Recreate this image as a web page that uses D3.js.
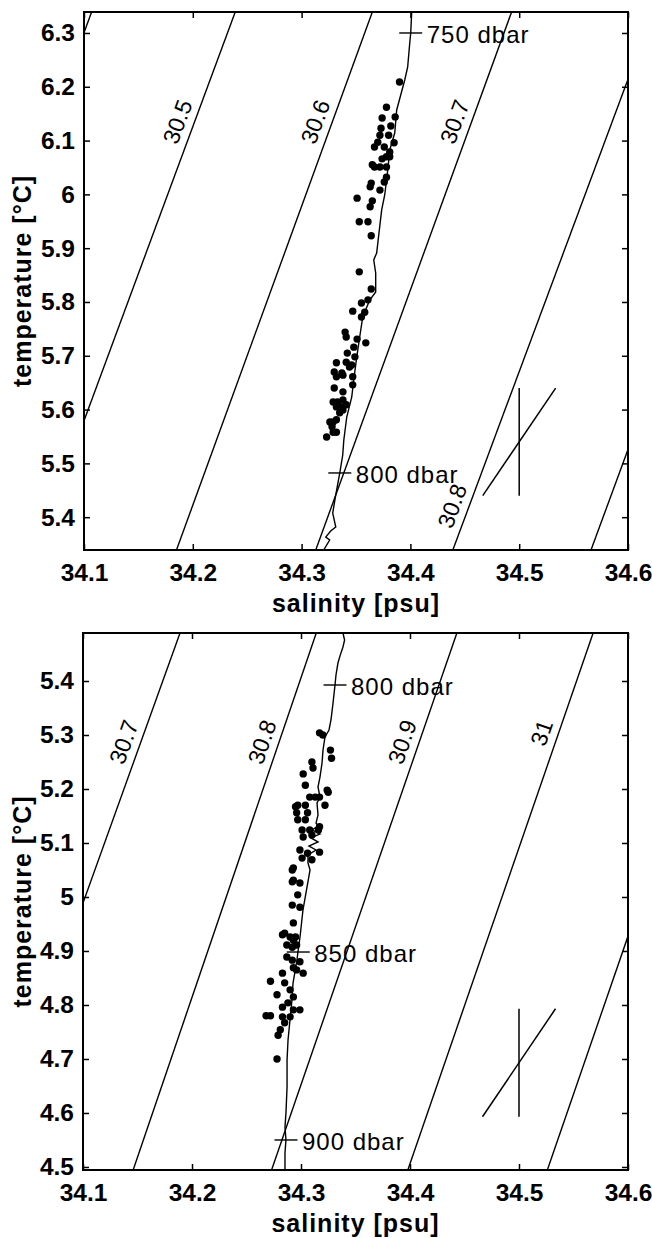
<!DOCTYPE html>
<html>
<head>
<meta charset="utf-8">
<script src="https://cdn.jsdelivr.net/npm/d3@7"></script>
<style>
  body { margin: 0; background: #fff; }
  svg { display: block; font-family: "Liberation Sans", Arial, Helvetica, sans-serif; }
</style>
</head>
<body>
<script>
// ---------- data ----------
const salinityDomain = [34.1, 34.6];
const salinityTicks = [34.1, 34.2, 34.3, 34.4, 34.5, 34.6];

// upper panel (750-800 dbar)
const tempDomainTop = [5.339, 6.339];
const tempTicksTop = [5.4, 5.5, 5.6, 5.7, 5.8, 5.9, 6.0, 6.1, 6.2, 6.3];
// isopycnals: salinity where each line meets the lower and upper temperature limit
const isoSigmaTop = [30.4, 30.5, 30.6, 30.7, 30.8, 30.9];
const isoSalLowTop = [33.925, 34.056, 34.185, 34.313, 34.439, 34.566];
const isoSalHighTop = [34.107, 34.239, 34.365, 34.493, 34.623, 34.748];
const isoLabelsTop = ["30.5", "30.6", "30.7", "30.8"];
const isoLabelTempTop = [6.135, 6.135, 6.135, 5.421];
// CTD profile [salinity, temperature]
const ctdTop = [
  [34.4012, 6.339], [34.4003, 6.300], [34.3994, 6.2814], [34.3975, 6.2368], [34.3948, 6.2126],
  [34.3911, 6.1848], [34.3874, 6.1569], [34.3856, 6.1141], [34.3810, 6.0825], [34.3792, 6.0454],
  [34.3764, 5.9989], [34.3736, 5.9710], [34.3709, 5.9245], [34.3690, 5.8911], [34.3663, 5.8781],
  [34.3681, 5.8539], [34.3681, 5.8186], [34.3626, 5.8037], [34.3562, 5.7721], [34.3534, 5.7349],
  [34.3507, 5.6978], [34.3479, 5.6550], [34.3461, 5.6234], [34.3415, 5.5862], [34.3388, 5.5435],
  [34.3378, 5.5156], [34.3351, 5.4822], [34.3314, 5.4413], [34.3286, 5.4077], [34.3314, 5.3817],
  [34.3267, 5.3742], [34.3222, 5.3631], [34.3258, 5.3575], [34.3203, 5.3390]
];
// samples [salinity, temperature]
const samplesTop = [
  [34.390, 6.209], [34.378, 6.162], [34.374, 6.142], [34.386, 6.144], [34.382, 6.127],
  [34.373, 6.123], [34.372, 6.110], [34.380, 6.110], [34.370, 6.097], [34.385, 6.096],
  [34.376, 6.088], [34.367, 6.088], [34.381, 6.079], [34.381, 6.070], [34.378, 6.070],
  [34.374, 6.066], [34.365, 6.055], [34.367, 6.051], [34.372, 6.051], [34.378, 6.051],
  [34.378, 6.032], [34.376, 6.023], [34.364, 6.021], [34.363, 6.014], [34.372, 6.008],
  [34.351, 5.993], [34.365, 5.988], [34.363, 5.977], [34.353, 5.949], [34.361, 5.949],
  [34.364, 5.923], [34.353, 5.856], [34.364, 5.824], [34.361, 5.804], [34.355, 5.798],
  [34.347, 5.783], [34.358, 5.781], [34.355, 5.772], [34.340, 5.744], [34.341, 5.735],
  [34.351, 5.731], [34.359, 5.724], [34.348, 5.716], [34.342, 5.705], [34.349, 5.698],
  [34.341, 5.688], [34.344, 5.679], [34.332, 5.687], [34.330, 5.670], [34.337, 5.668],
  [34.332, 5.661], [34.338, 5.664], [34.347, 5.661], [34.330, 5.640], [34.338, 5.633],
  [34.347, 5.646], [34.329, 5.614], [34.333, 5.614], [34.338, 5.618], [34.332, 5.605],
  [34.337, 5.605], [34.341, 5.609], [34.335, 5.594], [34.338, 5.599], [34.329, 5.577],
  [34.332, 5.581], [34.328, 5.568], [34.332, 5.558], [34.329, 5.558], [34.323, 5.549],
  [34.346, 5.683], [34.326, 5.577]
];
const pressLabelsTop = ["750 dbar", "800 dbar"];
const pressPointsTop = [[34.4003, 6.300], [34.3351, 5.4822]];
const errCenterTop = [34.5, 5.540];

// lower panel (800-900 dbar)
const tempDomainBottom = [4.4944, 5.4889];
const tempTicksBottom = [4.5, 4.6, 4.7, 4.8, 4.9, 5.0, 5.1, 5.2, 5.3, 5.4];
const isoSigmaBottom = [30.7, 30.8, 30.9, 31.0, 31.1];
const isoSalLowBottom = [34.012, 34.146, 34.273, 34.398, 34.526];
const isoSalHighBottom = [34.189, 34.314, 34.443, 34.568, 34.696];
const isoLabelsBottom = ["30.7", "30.8", "30.9", "31"];
const isoLabelTempBottom = [5.287, 5.287, 5.287, 5.304];
const ctdBottom = [
  [34.3385, 5.4889], [34.3400, 5.4760], [34.3385, 5.4630], [34.3360, 5.4480], [34.3339, 5.4333],
  [34.3321, 5.4111], [34.3312, 5.3926], [34.3294, 5.3593], [34.3275, 5.3278], [34.3257, 5.3093],
  [34.3220, 5.2963], [34.3202, 5.2722], [34.3193, 5.2481], [34.3174, 5.2222], [34.3156, 5.2037],
  [34.3174, 5.1852], [34.3147, 5.1741], [34.3156, 5.1519], [34.3138, 5.1370], [34.3156, 5.1315],
  [34.3101, 5.1241], [34.3174, 5.1167], [34.3092, 5.1093], [34.3156, 5.1019], [34.3073, 5.0944],
  [34.3138, 5.0870], [34.3064, 5.0778], [34.3064, 5.0630], [34.3083, 5.0500], [34.3055, 5.0185],
  [34.3018, 4.9759], [34.2991, 4.9259], [34.2972, 4.8981], [34.2963, 4.8833], [34.2927, 4.8407],
  [34.2917, 4.8093], [34.2899, 4.7722], [34.2881, 4.7352], [34.2872, 4.6981], [34.2872, 4.6481],
  [34.2862, 4.6000], [34.2853, 4.5741], [34.2862, 4.5500], [34.2853, 4.5259], [34.2853, 4.4944]
];
const samplesBottom = [
  [34.317, 5.304], [34.320, 5.300], [34.327, 5.272], [34.328, 5.257], [34.310, 5.250],
  [34.311, 5.239], [34.302, 5.228], [34.304, 5.207], [34.325, 5.194], [34.308, 5.185],
  [34.313, 5.185], [34.317, 5.185], [34.297, 5.170], [34.304, 5.170], [34.322, 5.170],
  [34.324, 5.198], [34.296, 5.156], [34.306, 5.156], [34.297, 5.143], [34.304, 5.143],
  [34.316, 5.124], [34.301, 5.124], [34.308, 5.124], [34.302, 5.111], [34.310, 5.115],
  [34.299, 5.087], [34.306, 5.081], [34.317, 5.083], [34.301, 5.072], [34.310, 5.069],
  [34.292, 5.050], [34.293, 5.054], [34.293, 5.031], [34.292, 5.028], [34.299, 5.026],
  [34.297, 5.004], [34.292, 4.985], [34.299, 4.981], [34.293, 4.952], [34.285, 4.933],
  [34.290, 4.926], [34.295, 4.926], [34.287, 4.911], [34.292, 4.907], [34.296, 4.911],
  [34.287, 4.889], [34.292, 4.883], [34.299, 4.880], [34.293, 4.869], [34.296, 4.865],
  [34.302, 4.859], [34.272, 4.844], [34.278, 4.819], [34.285, 4.841], [34.290, 4.828],
  [34.293, 4.815], [34.283, 4.796], [34.288, 4.804], [34.299, 4.791], [34.293, 4.791],
  [34.268, 4.780], [34.272, 4.780], [34.283, 4.778], [34.290, 4.778], [34.285, 4.767],
  [34.281, 4.754], [34.279, 4.744], [34.278, 4.700], [34.283, 4.930], [34.293, 4.920],
  [34.283, 4.859], [34.295, 5.167], [34.317, 5.130]
];
const pressLabelsBottom = ["800 dbar", "850 dbar", "900 dbar"];
const pressPointsBottom = [[34.3312, 5.3926], [34.2975, 4.8981], [34.2862, 4.5500]];
const errCenterBottom = [34.5, 4.693];

// error cross half widths [salinity, temperature]
const errHalf = [0.0335, 0.1];

// ---------- drawing ----------
const width = 652, height = 1238;
const svg = d3.select("body").append("svg")
  .attr("width", width).attr("height", height);

const panels = [
  {
    id: "top", box: { left: 84, right: 628, top: 12, bottom: 550 },
    tDomain: tempDomainTop, tTicks: tempTicksTop,
    sigma: isoSigmaTop, salLow: isoSalLowTop, salHigh: isoSalHighTop,
    labels: isoLabelsTop, labelTemp: isoLabelTempTop,
    ctd: ctdTop, samples: samplesTop,
    press: pressLabelsTop, pressPts: pressPointsTop, err: errCenterTop
  },
  {
    id: "bottom", box: { left: 83, right: 628, top: 633, bottom: 1170 },
    tDomain: tempDomainBottom, tTicks: tempTicksBottom,
    sigma: isoSigmaBottom, salLow: isoSalLowBottom, salHigh: isoSalHighBottom,
    labels: isoLabelsBottom, labelTemp: isoLabelTempBottom,
    ctd: ctdBottom, samples: samplesBottom,
    press: pressLabelsBottom, pressPts: pressPointsBottom, err: errCenterBottom
  }
];

const tempFormat = d => d3.format(".1f")(d).replace(/\.0$/, "");

function drawPanel(p) {
  const b = p.box;
  const x = d3.scaleLinear().domain(salinityDomain).range([b.left, b.right]);
  const y = d3.scaleLinear().domain(p.tDomain).range([b.bottom, b.top]);
  const [tLow, tHigh] = p.tDomain;

  svg.append("clipPath").attr("id", "clip-" + p.id)
    .append("rect")
    .attr("x", b.left).attr("y", b.top)
    .attr("width", b.right - b.left).attr("height", b.bottom - b.top);

  const plot = svg.append("g").attr("clip-path", `url(#clip-${p.id})`);

  // isopycnals
  const lineGen = d3.line().x(d => x(d[0])).y(d => y(d[1]));
  const iso = p.sigma.map((s, i) => ({
    sigma: s,
    pts: [[p.salLow[i], tLow], [p.salHigh[i], tHigh]]
  }));
  plot.selectAll(".iso").data(iso).join("path")
    .attr("class", "iso")
    .attr("d", d => lineGen(d.pts))
    .attr("fill", "none").attr("stroke", "#000").attr("stroke-width", 1.4);

  // isopycnal labels, beside their line
  p.labels.forEach((lab, k) => {
    const i = p.sigma.findIndex(s => tempFormat(s) === lab);
    const t = p.labelTemp[k];
    const f = (t - tLow) / (tHigh - tLow);
    const s = p.salLow[i] + f * (p.salHigh[i] - p.salLow[i]);
    const dx = x(p.salHigh[i]) - x(p.salLow[i]);
    const dy = y(tHigh) - y(tLow);
    const ang = Math.atan2(dy, dx) * 180 / Math.PI;
    const cx = x(s) - 17, cy = y(t);
    svg.append("text")
      .attr("transform", `translate(${cx},${cy}) rotate(${ang})`)
      .attr("text-anchor", "middle")
      .attr("dominant-baseline", "central")
      .style("font-size", "23px")
      .text(lab);
  });

  // CTD profile
  plot.append("path")
    .datum(p.ctd)
    .attr("d", lineGen)
    .attr("fill", "none").attr("stroke", "#000").attr("stroke-width", 1.4);

  // samples
  plot.selectAll(".sample").data(p.samples).join("circle")
    .attr("class", "sample")
    .attr("cx", d => x(d[0])).attr("cy", d => y(d[1]))
    .attr("r", 3.7).attr("fill", "#000");

  // pressure markers
  p.press.forEach((lab, i) => {
    const px = x(p.pressPts[i][0]), py = y(p.pressPts[i][1]);
    svg.append("line")
      .attr("x1", px - 11.5).attr("x2", px + 11.5)
      .attr("y1", py).attr("y2", py)
      .attr("stroke", "#000").attr("stroke-width", 1.4);
    svg.append("text")
      .attr("x", px + 16).attr("y", py + 10)
      .style("font-size", "24px").style("letter-spacing", "1px")
      .text(lab);
  });

  // error cross
  const [es, et] = p.err;
  const [hs, ht] = errHalf;
  svg.append("line")
    .attr("x1", x(es)).attr("x2", x(es))
    .attr("y1", y(et - ht)).attr("y2", y(et + ht))
    .attr("stroke", "#000").attr("stroke-width", 1.5);
  svg.append("line")
    .attr("x1", x(es - hs)).attr("x2", x(es + hs))
    .attr("y1", y(et - ht)).attr("y2", y(et + ht))
    .attr("stroke", "#000").attr("stroke-width", 1.5);

  // axes, inward ticks on all four sides
  const styleAxis = g => {
    g.select(".domain").remove();
    g.selectAll(".tick line").attr("stroke", "#000").attr("stroke-width", 1.5);
    g.selectAll(".tick text")
      .attr("fill", "#000")
      .style("font-size", "24.5px").style("font-weight", "bold")
      .style("font-family", "'Liberation Sans', Arial, Helvetica, sans-serif");
  };
  svg.append("g").attr("transform", `translate(0,${b.bottom})`)
    .call(d3.axisBottom(x).tickValues(salinityTicks).tickSizeInner(-6).tickSizeOuter(0)
      .tickPadding(14).tickFormat(d3.format(".1f")))
    .call(styleAxis);
  svg.append("g").attr("transform", `translate(0,${b.top})`)
    .call(d3.axisTop(x).tickValues(salinityTicks).tickSizeInner(-6).tickSizeOuter(0).tickFormat(""))
    .call(styleAxis);
  svg.append("g").attr("transform", `translate(${b.left},0)`)
    .call(d3.axisLeft(y).tickValues(p.tTicks).tickSizeInner(-6).tickSizeOuter(0)
      .tickPadding(9).tickFormat(tempFormat))
    .call(styleAxis);
  svg.append("g").attr("transform", `translate(${b.right},0)`)
    .call(d3.axisRight(y).tickValues(p.tTicks).tickSizeInner(-6).tickSizeOuter(0).tickFormat(""))
    .call(styleAxis);

  // frame
  svg.append("rect")
    .attr("x", b.left).attr("y", b.top)
    .attr("width", b.right - b.left).attr("height", b.bottom - b.top)
    .attr("fill", "none").attr("stroke", "#000").attr("stroke-width", 2);

  // axis titles
  svg.append("text")
    .attr("x", (b.left + b.right) / 2).attr("y", b.bottom + 62)
    .attr("text-anchor", "middle")
    .style("font-size", "25px").style("font-weight", "bold").style("letter-spacing", "1px")
    .text("salinity [psu]");
  svg.append("text")
    .attr("transform", `translate(31,${(b.top + b.bottom) / 2}) rotate(-90)`)
    .attr("text-anchor", "middle")
    .style("font-size", "25px").style("font-weight", "bold").style("letter-spacing", "1px")
    .text("temperature [°C]");
}

panels.forEach(drawPanel);
</script>
</body>
</html>
